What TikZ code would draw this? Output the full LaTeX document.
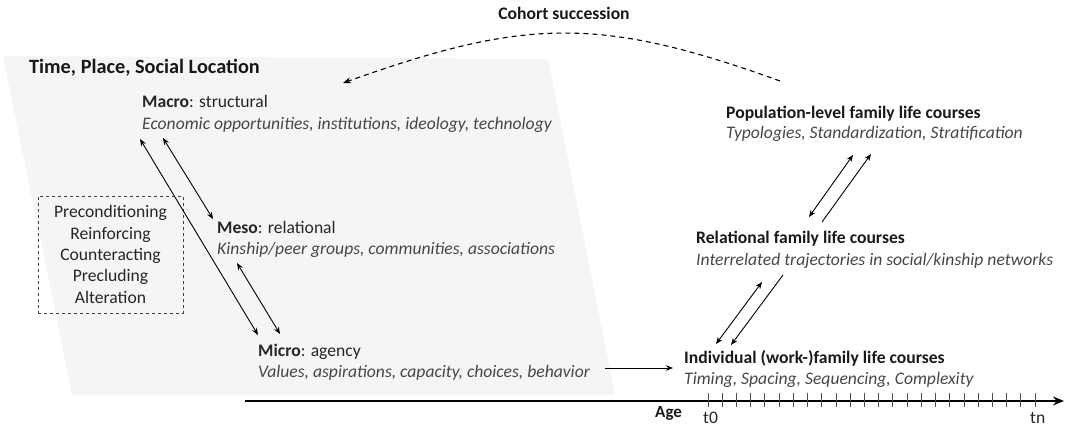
\documentclass[tikz,border=0pt]{standalone}
\usepackage{fontspec}
\setmainfont{Carlito}
\usetikzlibrary{arrows.meta}
\begin{document}
\begin{tikzpicture}[x=1pt,y=-1pt,
  txt/.style={anchor=base west, inner sep=0pt, font=\fontsize{17.6}{21}\selectfont, text=black!85},
  desc/.style={txt, font=\fontsize{17.6}{21}\selectfont\itshape, text=black!72},
  hd/.style={txt, font=\fontsize{17.6}{21}\selectfont\bfseries, text=black!90},
  arr/.style={-{Stealth[length=7pt,width=5.5pt]}, line width=0.9pt},
  darr/.style={{Stealth[length=7pt,width=5.5pt]}-{Stealth[length=7pt,width=5.5pt]}, line width=0.9pt},
]
\useasboundingbox (0,0) rectangle (1066,428);
% background parallelogram
\fill[black!4] (3,56) -- (548,59) -- (615,395) -- (72,395) -- cycle;

% texts
\node[hd, font=\fontsize{20.3}{24}\selectfont\bfseries] (title) at (29,74) {Time, Place, Social Location};
\node[hd, anchor=base] (cohort) at (564,20) {Cohort succession};

\node[txt] (macro) at (142,107.5) {\textbf{Macro}: structural};
\node[desc] (macroD) at (142,129) {Economic opportunities, institutions, ideology, technology};
\node[txt] (meso) at (217,233) {\textbf{Meso}: relational};
\node[desc] (mesoD) at (217,254) {Kinship/peer groups, communities, associations};
\node[txt] (micro) at (258,356) {\textbf{Micro}: agency};
\node[desc] (microD) at (258,377) {Values, aspirations, capacity, choices, behavior};

\node[hd] (pop) at (726,118) {Population-level family life courses};
\node[desc] (popD) at (726,139) {Typologies, Standardization, Stratification};
\node[hd] (rel) at (696,243.5) {Relational family life courses};
\node[desc] (relD) at (696,265) {Interrelated trajectories in social/kinship networks};
\node[hd] (ind) at (684,363.5) {Individual (work-)family life courses};
\node[desc] (indD) at (684,384.5) {Timing, Spacing, Sequencing, Complexity};

\node[draw=black!75, dashed, line width=0.7pt, minimum width=145pt, minimum height=117pt,
      align=center, inner sep=0pt, font=\fontsize{17.6}{21.3}\selectfont, text=black!85]
      (box) at (110.5,254.5) {Preconditioning\\Reinforcing\\Counteracting\\Precluding\\Alteration};

% left arrows
\coordinate (lA1) at (140,139);
\coordinate (lA2) at (258,335);
\coordinate (lB1) at (163,138);
\coordinate (lB2) at (213,219);
\coordinate (lC1) at (237,263);
\coordinate (lC2) at (280,334);
\draw[darr] (lA1) -- (lA2);
\draw[darr] (lB1) -- (lB2);
\draw[darr] (lC1) -- (lC2);

% micro to individual
\coordinate (mi1) at (605,368);
\coordinate (mi2) at (673,368);
\draw[arr] (mi1) -- (mi2);

% right arrows
\coordinate (rA1) at (809,217);
\coordinate (rA2) at (853,155);
\coordinate (rB1) at (822,222);
\coordinate (rB2) at (871,154);
\draw[darr] (rA1) -- (rA2);
\draw[arr] (rB1) -- (rB2);
\coordinate (rC1) at (716,344);
\coordinate (rC2) at (762,282);
\coordinate (rD1) at (783,275);
\coordinate (rD2) at (731,345);
\draw[darr] (rC1) -- (rC2);
\draw[arr] (rD1) -- (rD2);

% cohort succession curve
\coordinate (cs1) at (780,81);
\coordinate (cs2) at (343,83);
\draw[line width=1.1pt, dash pattern=on 5pt off 4pt, -{Stealth[length=8pt,width=6pt]}]
  (cs1) .. controls (600,16) and (525,18) .. (cs2);

% age axis
\coordinate (ax1) at (245,401);
\coordinate (ax2) at (1064,401);
\draw[line width=1.8pt, -{Stealth[length=11pt,width=9pt]}] (ax1) -- (ax2);
\foreach \i in {0,...,23}
  \draw[line width=0.8pt, black!70] ({708+\i*14.217},393) -- ++(0,14);
\node[hd, font=\fontsize{17}{20}\selectfont\bfseries] (age) at (655,417) {Age};
\node[txt] (t0) at (703,423) {t0};
\node[txt] (tn) at (1030,423) {tn};
\end{tikzpicture}
\end{document}
